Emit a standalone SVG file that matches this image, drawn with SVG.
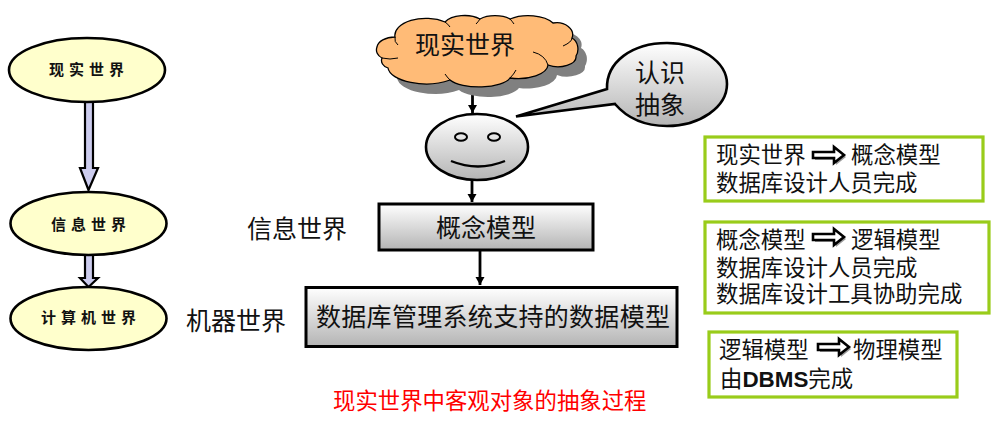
<svg xmlns="http://www.w3.org/2000/svg" width="1002" height="429" viewBox="0 0 1002 429">
<style>
text{font-family:"Noto Sans CJK SC","Liberation Sans",sans-serif;fill:#111}
.t25{font-size:25px}
.t22{font-size:22.4px}
.m{text-anchor:middle}
.hand{font-size:15px;font-weight:700;letter-spacing:5px;text-anchor:middle}
.yel{fill:#ffffcc;stroke:#000;stroke-width:2.6}
.blk{fill:#ccccee;stroke:#000;stroke-width:2.2}
.box{fill:url(#gr);stroke:#000;stroke-width:3}
.gb{fill:#fff;stroke:#99cc1a;stroke-width:3.2}
.con{stroke:#000;stroke-width:2.8;fill:none;marker-end:url(#ah)}
.ha{fill:#fff;stroke:#000;stroke-width:2.6}
.has{fill:#999}
.crease{fill:none;stroke:#000;stroke-width:1}
</style>
<defs>
<linearGradient id="gr" x1="0" y1="0" x2="0" y2="1"><stop offset="0" stop-color="#ffffff"/><stop offset="1" stop-color="#b4b4b4"/></linearGradient>
<marker id="ah" markerUnits="userSpaceOnUse" markerWidth="10" markerHeight="10" refX="8" refY="4.500" orient="auto"><path d="M0 0L8 4.500L0 9Z" fill="#000"/></marker>
<path id="cl" d="M377 47A18 11 0 0 1 395 37A31 17 0 0 1 445 22A22 12 0 0 1 480 19A20 10 0 0 1 510 19A28 14 0 0 1 553 23A16 12 0 0 1 572 38A10 12 0 0 1 576 56A18 10 0 0 1 548 65A30 14 0 0 1 510 78A32 12 0 0 1 450 80A38 17 0 0 1 388 68A10 8 0 0 1 382 58A10 9 0 0 1 377 47Z"/>
<path id="ha" d="M0 -3H21V-8L31 0L21 8V3H0Z"/>
</defs>

<g id="connectors">
<path class="blk" d="M85 102H93V168H98L88.500 190L80 168H85Z"/>
<path class="blk" d="M85 255H93V278H98L88.500 287L80 278H85Z"/>
<path class="con" d="M472.500 90V113"/>
<path class="con" d="M472 180V202"/>
<path class="con" d="M480 251V285"/>
</g>

<g id="n-real"><ellipse class="yel" cx="87" cy="70" rx="78" ry="32"/><text class="hand" x="89" y="75">现实世界</text></g>
<g id="n-info"><ellipse class="yel" cx="88.500" cy="223.500" rx="78" ry="31.500"/><text class="hand" x="91" y="230">信息世界</text></g>
<g id="n-machine"><ellipse class="yel" cx="88.500" cy="318.500" rx="78" ry="31.500"/><text class="hand" x="91" y="323">计算机世界</text></g>

<g id="n-cloud">
<use href="#cl" transform="translate(9 10)" fill="#808080"/>
<use href="#cl" fill="#ffbb77" stroke="#000" stroke-width="1.300"/>
<path class="crease" d="M548 65Q545 55 533 52M572 38Q572 42 563 46M382 58Q390 60 398 58M395 37Q394 42 398 45M445 22Q448 24 450 27M480 19Q478 22 476 24M510 19Q512 21 514 24M450 80Q447 77 445 74M510 78Q514 74 516 70"/>
<text class="t25" x="415" y="54">现实世界</text>
</g>

<g id="n-callout">
<path d="M516 116.500L607 89C606 62 632 43 667 43C700 43 727 62 727 84C727 107 700 126 667 126C645 126 627 118 615 104Z" fill="url(#gr)" stroke="#000" stroke-width="2.600"/>
<text class="t25" x="635" y="82">认识</text>
<text class="t25" x="635" y="114">抽象</text>
</g>

<g id="n-face">
<ellipse cx="477" cy="147" rx="51" ry="33" fill="url(#gr)" stroke="#000" stroke-width="2.600"/>
<ellipse cx="461" cy="137" rx="6" ry="3.800" fill="none" stroke="#000" stroke-width="2"/>
<ellipse cx="494" cy="137" rx="6" ry="3.800" fill="none" stroke="#000" stroke-width="2"/>
<path d="M451 161Q478 172 505 161" fill="none" stroke="#000" stroke-width="2.400"/>
</g>

<g id="n-concept"><rect class="box" x="379" y="204" width="214" height="46"/><text class="t25 m" x="486" y="237">概念模型</text></g>
<g id="n-dbms"><rect class="box" x="306" y="287.500" width="371" height="59"/><text class="t25" x="316" y="326" textLength="354">数据库管理系统支持的数据模型</text></g>

<text class="t25" x="247" y="238">信息世界</text>
<text class="t25" x="186" y="330">机器世界</text>

<g id="n-b1">
<rect class="gb" x="705" y="137" width="278" height="64"/>
<text class="t22" x="716" y="163">现实世界</text>
<use href="#ha" class="has" transform="translate(815 157)"/>
<use href="#ha" class="ha" transform="translate(813 155)"/>
<text class="t22" x="851" y="163">概念模型</text>
<text class="t22" x="716" y="191">数据库设计人员完成</text>
</g>

<g id="n-b2">
<rect class="gb" x="705" y="222" width="284" height="91"/>
<text class="t22" x="716" y="248">概念模型</text>
<use href="#ha" class="has" transform="translate(815 239)"/>
<use href="#ha" class="ha" transform="translate(813 237)"/>
<text class="t22" x="851" y="248">逻辑模型</text>
<text class="t22" x="716" y="276">数据库设计人员完成</text>
<text class="t22" x="716" y="302">数据库设计工具协助完成</text>
</g>

<g id="n-b3">
<rect class="gb" x="709" y="332" width="248" height="65"/>
<text class="t22" x="719" y="358">逻辑模型</text>
<use href="#ha" class="has" transform="translate(820 349)"/>
<use href="#ha" class="ha" transform="translate(818 347)"/>
<text class="t22" x="853" y="358">物理模型</text>
<text class="t22" x="720" y="387">由<tspan font-family="Liberation Sans" font-weight="bold">DBMS</tspan>完成</text>
</g>

<text class="t22" x="333" y="409" style="fill:#ff0000">现实世界中客观对象的抽象过程</text>
</svg>
